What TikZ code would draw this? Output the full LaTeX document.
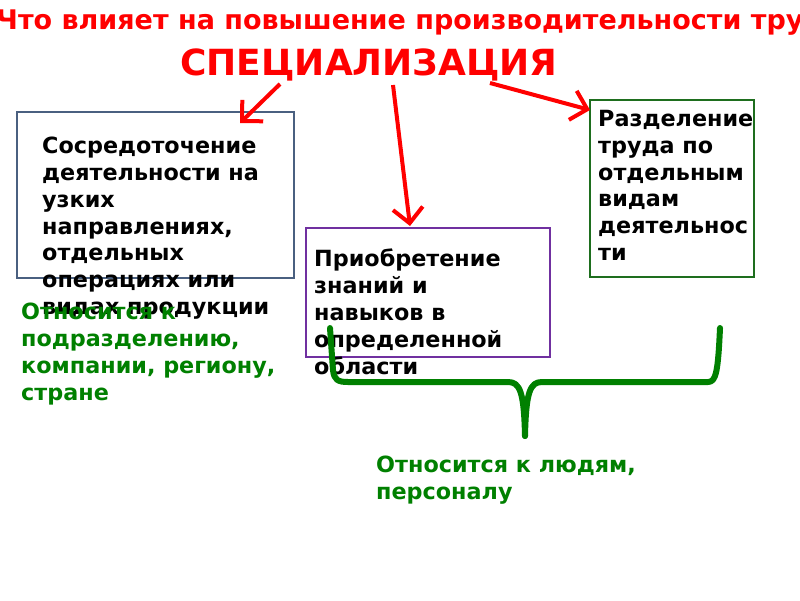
\documentclass[tikz,border=0pt]{standalone}
\usepackage{fontspec}
\setmainfont{DejaVu Sans}
\usetikzlibrary{arrows.meta}
\definecolor{redline}{RGB}{255,0,0}
\definecolor{greentext}{RGB}{0,128,0}
\definecolor{boxblue}{RGB}{74,96,128}
\definecolor{boxpurple}{RGB}{112,48,160}
\definecolor{boxgreen}{RGB}{30,110,30}
\tikzset{%
   titletext/.style={
      anchor=west,
      inner sep=0pt,
      text=redline,
      font=\bfseries\fontsize{27}{30}\selectfont
   },
   headtext/.style={
      inner sep=0pt,
      text=redline,
      font=\bfseries\fontsize{36}{42}\selectfont
   },
   frame/.style={
      draw=#1,
      line width=1.5pt,
      inner sep=0pt
   },
   bodytext/.style={
      anchor=north west,
      inner sep=0pt,
      align=left,
      font=\bfseries\fontsize{22.3}{26.8}\selectfont
   },
   notetext/.style={
      bodytext,
      text=greentext
   },
   redarrow/.style={
      draw=redline,
      line width=4pt,
      -{Straight Barb[length=15pt,width=30pt,line width=4pt]}
   },
   brace/.style={
      draw=greentext,
      line width=6pt,
      line cap=round,
      line join=round
   },
}

\begin{document}
\begin{tikzpicture}[x=1pt,y={(0,-1pt)}]
      \useasboundingbox (0,0) rectangle (800,600);
      \node[titletext] (title) at (-4,23) {Что влияет на повышение производительности труда};
      \node[headtext] (spec) at (369,65) {СПЕЦИАЛИЗАЦИЯ};
      % boxes
      \node[frame=boxblue, minimum width=277pt, minimum height=166pt] (conc) at (155.5,195) {};
      \node[frame=boxpurple, minimum width=244pt, minimum height=129pt] (acq) at (428,292.5) {};
      \node[frame=boxgreen, minimum width=164pt, minimum height=177pt] (div) at (672,188.5) {};
      \node[bodytext] (conct) at (42,137) {Сосредоточение\\деятельности на\\узких\\направлениях,\\отдельных\\операциях или\\видах продукции};
      \node[bodytext] (acqt) at (314,249) {Приобретение\\знаний и\\навыков в\\определенной\\области};
      \node[bodytext] (divt) at (598,110) {Разделение\\труда по\\отдельным\\видам\\деятельнос\\ти};
      \node[notetext] (org) at (21,303) {Относится к\\подразделению,\\компании, региону,\\стране};
      \node[notetext] (ppl) at (376,456) {Относится к людям,\\персоналу};
      % arrows
      \coordinate (s1) at (280,84);
      \coordinate (s2) at (393,85);
      \coordinate (s3) at (490,83);
      \coordinate (t1) at (240,123);
      \coordinate (t2) at (410,226);
      \coordinate (t3) at (590,110);
      \draw[redarrow] (s1) -- (t1);
      \draw[redarrow] (s2) -- (t2);
      \draw[redarrow] (s3) -- (t3);
      % brace
      \coordinate (bl) at (330,328);
      \coordinate (br) at (720,328);
      \coordinate (bt) at (525,436);
      \draw[brace] (bl) -- (333,370) .. controls (334,380) and (338,382) .. (348,382) -- (508,382)
         .. controls (520,382) and (524,392) .. (bt);
      \draw[brace] (bt) .. controls (526,392) and (530,382) .. (542,382) -- (708,382)
         .. controls (716,382) and (718,372) .. (br);
\end{tikzpicture}
\end{document}
